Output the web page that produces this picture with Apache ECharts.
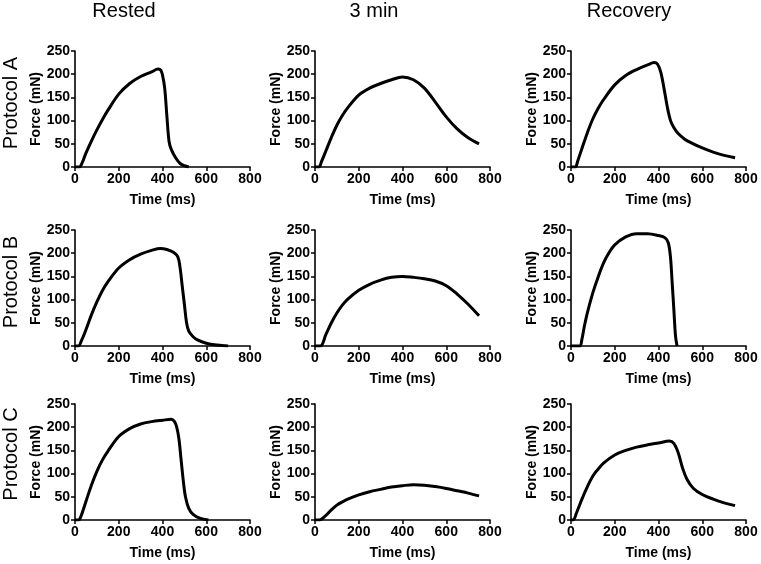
<!DOCTYPE html>
<html>
<head>
<meta charset="utf-8">
<script src="https://cdn.jsdelivr.net/npm/echarts@6/dist/echarts.min.js"></script>
<style>
html,body{margin:0;padding:0;background:#fff;}
#chart{width:761px;height:564px;}
</style>
</head>
<body>
<div id="chart"></div>
<script>
// Column and row labels
const columnTitles = ['Rested', '3 min', 'Recovery'];
const rowTitles = ['Protocol A', 'Protocol B', 'Protocol C'];
const xTicks = [0, 200, 400, 600, 800];
const yTicks = [0, 50, 100, 150, 200, 250];

// [time (ms), force (mN)]
const protocolA_rested = [[0,0],[20,0],[30,6],[50,30],[75,56],[100,80],[125,102],[150,122],[200,157],[250,180],[300,195],[350,205],[380,211],[392,209],[400,198],[410,170],[420,110],[430,55],[440,38],[460,20],[480,8],[500,3],[520,0]];
const protocolA_3min = [[0,0],[18,0],[30,12],[50,35],[75,64],[100,90],[125,111],[150,128],[200,155],[250,170],[300,180],[350,188],[400,194],[450,188],[500,170],[550,140],[600,108],[650,82],[700,63],[750,50]];
const protocolA_recovery = [[0,0],[20,0],[30,12],[50,40],[75,74],[100,104],[125,127],[150,146],[200,177],[250,197],[300,210],[350,220],[380,225],[395,222],[410,205],[425,170],[440,130],[455,100],[470,85],[490,72],[520,60],[550,52],[600,41],[650,32],[700,25],[750,20]];
const protocolB_rested = [[0,0],[15,0],[30,12],[50,35],[75,67],[100,95],[125,119],[150,138],[200,168],[250,186],[300,198],[350,206],[390,210],[420,208],[450,202],[470,192],[480,170],[490,130],[500,90],[510,50],[520,32],[540,20],[560,13],[600,6],[650,2],[700,0]];
const protocolB_3min = [[0,0],[25,0],[50,25],[75,50],[100,71],[125,88],[150,101],[200,120],[250,133],[300,142],[350,148],[400,150],[450,148],[500,145],[550,140],[600,130],[650,112],[700,90],[750,65]];
const protocolB_recovery = [[0,0],[40,0],[50,15],[60,40],[75,72],[100,115],[125,150],[150,180],[175,202],[200,218],[250,235],[300,242],[350,242],[400,238],[430,233],[445,222],[455,190],[462,140],[470,80],[478,20],[485,0]];
const protocolC_rested = [[0,0],[15,0],[25,5],[50,40],[75,75],[100,105],[125,129],[150,148],[200,180],[250,197],[300,207],[350,212],[400,215],[440,217],[455,212],[465,200],[475,175],[485,130],[495,85],[505,50],[520,25],[540,12],[570,4],[610,0]];
const protocolC_3min = [[0,0],[20,0],[50,10],[75,22],[100,32],[125,39],[150,45],[200,54],[250,61],[300,66],[350,71],[400,74],[450,76],[500,75],[550,72],[600,68],[650,63],[700,58],[750,52]];
const protocolC_recovery = [[0,0],[10,0],[25,15],[50,45],[75,72],[100,95],[125,110],[150,123],[200,140],[250,150],[300,157],[350,162],[400,166],[450,170],[470,165],[490,145],[510,112],[530,88],[560,68],[600,55],[650,45],[700,37],[750,31]];

const panels = [
  [protocolA_rested, protocolA_3min, protocolA_recovery],
  [protocolB_rested, protocolB_3min, protocolB_recovery],
  [protocolC_rested, protocolC_3min, protocolC_recovery]
];

const colLeft = [75, 315, 571];
const rowTop = [51, 230, 404];
const gridW = 175, gridH = 116;
const font = 'Liberation Sans, Arial, Helvetica, sans-serif';

const grids = [], xAxes = [], yAxes = [], series = [];
for (let r = 0; r < 3; r++) {
  for (let c = 0; c < 3; c++) {
    const i = r * 3 + c;
    grids.push({left: colLeft[c], top: rowTop[r], width: gridW, height: gridH});
    xAxes.push({
      type: 'value', gridIndex: i, min: xTicks[0], max: xTicks[xTicks.length-1], interval: 200,
      name: 'Time (ms)', nameLocation: 'middle', nameGap: 26,
      nameTextStyle: {fontFamily: font, fontWeight: 'bold', fontSize: 14, color: '#000'},
      axisLine: {onZero: false, lineStyle: {color: '#000', width: 1.6}},
      axisTick: {show: true, length: 4, lineStyle: {color: '#000', width: 1.5}},
      axisLabel: {fontFamily: font, fontWeight: 'bold', fontSize: 14, color: '#000', margin: 5},
      splitLine: {show: false}
    });
    yAxes.push({
      type: 'value', gridIndex: i, min: yTicks[0], max: yTicks[yTicks.length-1], interval: 50,
      name: 'Force (mN)', nameLocation: 'middle', nameGap: 32, nameRotate: 90,
      nameTextStyle: {fontFamily: font, fontWeight: 'bold', fontSize: 14, color: '#000'},
      axisLine: {show: true, lineStyle: {color: '#000', width: 1.6}},
      axisTick: {show: true, length: 4, lineStyle: {color: '#000', width: 1.5}},
      axisLabel: {fontFamily: font, fontWeight: 'bold', fontSize: 14, color: '#000', margin: 5},
      splitLine: {show: false}
    });
    series.push({
      type: 'line', xAxisIndex: i, yAxisIndex: i, data: panels[r][c],
      showSymbol: false, smooth: 0.35,
      lineStyle: {color: '#000', width: 3}, z: 1, silent: true
    });
  }
}

const colTitleX = [124, 374, 629];
const rowTitleY = [103, 282, 454];
const graphics = [];
columnTitles.forEach((t, c) => graphics.push({
  type: 'text', x: colTitleX[c], y: 11,
  style: {text: t, font: '20px ' + font, fill: '#000', textAlign: 'center', textVerticalAlign: 'middle'}
}));
rowTitles.forEach((t, r) => graphics.push({
  type: 'text', x: 11, y: rowTitleY[r], rotation: Math.PI / 2,
  style: {text: t, font: '20px ' + font, fill: '#000', textAlign: 'center', textVerticalAlign: 'middle'}
}));

const chart = echarts.init(document.getElementById('chart'), null, {renderer: 'canvas'});
chart.setOption({
  animation: false,
  backgroundColor: '#fff',
  grid: grids, xAxis: xAxes, yAxis: yAxes, series: series,
  graphic: graphics
});
</script>
</body>
</html>
